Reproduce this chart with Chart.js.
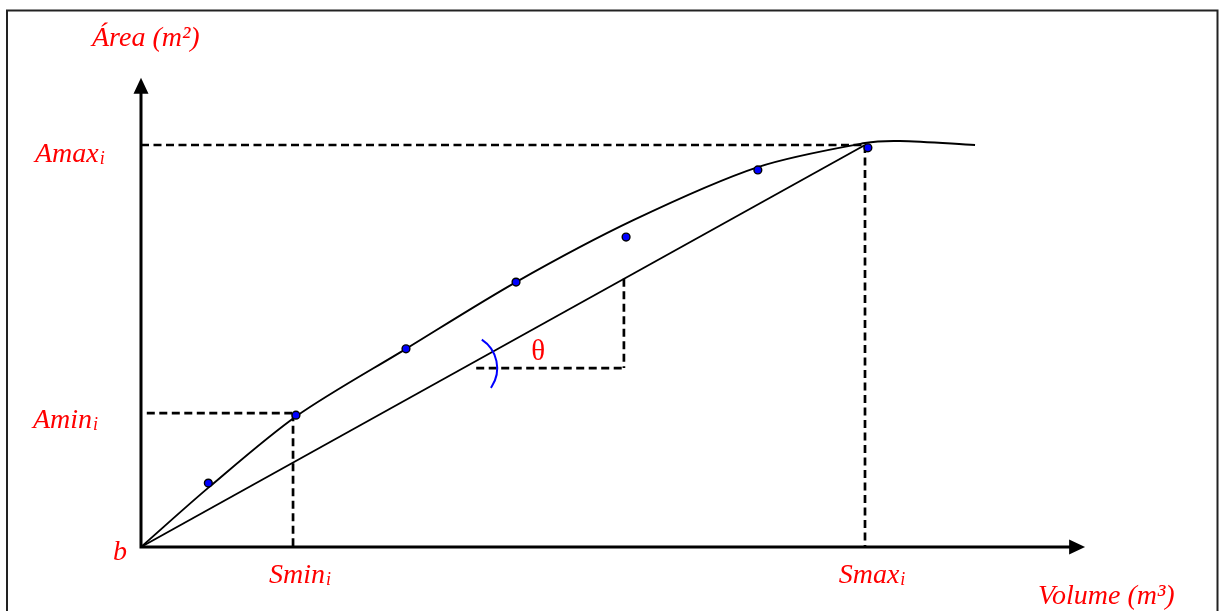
<!DOCTYPE html>
<html>
<head>
<meta charset="utf-8">
<script src="https://cdn.jsdelivr.net/npm/chart.js@4/dist/chart.umd.min.js"></script>
<style>
  html, body { margin: 0; padding: 0; background: #fff; }
  #wrap { width: 1219px; height: 611px; position: relative; }
</style>
</head>
<body>
<div id="wrap"><canvas id="c" width="1219" height="611"></canvas></div>
<script>
// Observed storage points (volume, area)
const observedVolume = [9.3, 21.4, 36.6, 51.8, 67.0, 85.2, 100.4];
const observedArea   = [15.9, 32.8, 49.3, 65.9, 77.1, 93.8, 99.3];

// Fitted area–volume curve
const curveVolume = [0, 9.4, 21.5, 36.6, 51.8, 68.0, 85.2, 100.0, 104.8, 115.2];
const curveArea   = [0, 14.9, 32.6, 49.3, 65.9, 81.3, 94.5, 100.5, 101.0, 100.0];

// Reference values marked on the axes
const sMin = 21.0, sMax = 100.0;
const aMin = 33.3, aMax = 100.0;
const bValue = 0;

// Slope triangle for theta (on the chord b -> (Smax, Amax))
const thetaVertex = 44.5;
const thetaRun = [46.3, 66.7];

// Axis extents (arrow tips)
const volumeAxisEnd = 130.4;
const areaAxisEnd = 116.7;

const pts = (xs, ys) => xs.map((x, i) => ({ x, y: ys[i] }));

const dashStyle = { borderColor: '#000', borderWidth: 2.7, borderDash: [8, 4.5], pointRadius: 0, showLine: true, fill: false, order: 3 };

const SERIF = '"Liberation Serif", "Times New Roman", serif';

const decorations = {
  id: 'decorations',
  beforeDatasetsDraw(chart) {
    const { ctx } = chart;
    const xs = chart.scales.x, ys = chart.scales.y;
    const x0 = xs.getPixelForValue(bValue), y0 = ys.getPixelForValue(bValue);
    ctx.save();
    // outer frame
    ctx.strokeStyle = '#222';
    ctx.lineWidth = 2;
    ctx.strokeRect(7, 10.5, 1210.5, 620);
    // axes with arrowheads
    ctx.strokeStyle = '#000';
    ctx.fillStyle = '#000';
    ctx.lineWidth = 3;
    const yTip = ys.getPixelForValue(areaAxisEnd);
    const xTip = xs.getPixelForValue(volumeAxisEnd);
    ctx.beginPath();
    ctx.moveTo(x0, y0 + 1.5);
    ctx.lineTo(x0, yTip + 14);
    ctx.moveTo(x0 - 1.5, y0);
    ctx.lineTo(xTip - 14, y0);
    ctx.stroke();
    ctx.beginPath();
    ctx.moveTo(x0, yTip);
    ctx.lineTo(x0 - 7.5, yTip + 16);
    ctx.lineTo(x0 + 7.5, yTip + 16);
    ctx.closePath();
    ctx.fill();
    ctx.beginPath();
    ctx.moveTo(xTip, y0);
    ctx.lineTo(xTip - 16, y0 - 7.5);
    ctx.lineTo(xTip - 16, y0 + 7.5);
    ctx.closePath();
    ctx.fill();
    ctx.restore();
  },
  afterDatasetsDraw(chart) {
    const { ctx } = chart;
    const xs = chart.scales.x, ys = chart.scales.y;
    const px = v => xs.getPixelForValue(v);
    const py = v => ys.getPixelForValue(v);
    const x0 = px(bValue), y0 = py(bValue);
    ctx.save();

    // theta arc
    const cx = px(thetaVertex), cy = py(thetaVertex);
    ctx.strokeStyle = '#0000ff';
    ctx.lineWidth = 2;
    ctx.beginPath();
    ctx.arc(cx, cy, 34, -56.8 * Math.PI / 180, 35.5 * Math.PI / 180);
    ctx.stroke();

    ctx.fillStyle = '#ff0000';
    ctx.textBaseline = 'alphabetic';

    const italic = size => `italic ${size}px ${SERIF}`;
    // label with italic subscript i
    const subLabel = (txt, left, base) => {
      ctx.font = italic(28);
      ctx.textAlign = 'left';
      ctx.fillText(txt, left, base);
      const w = ctx.measureText(txt).width;
      ctx.font = italic(18);
      ctx.fillText('i', left + w + 1, base + 2);
    };
    const subWidth = txt => {
      ctx.font = italic(28);
      const w = ctx.measureText(txt).width;
      ctx.font = italic(18);
      return w + 1 + ctx.measureText('i').width;
    };

    // axis titles
    ctx.font = italic(28);
    ctx.textAlign = 'left';
    ctx.fillText('Área (m²)', x0 - 49, py(areaAxisEnd) - 32);
    ctx.fillText('Volume (m³)', 1038, y0 + 57);

    // b at the origin
    ctx.textAlign = 'right';
    ctx.fillText('b', x0 - 14, y0 + 13);

    // y marks
    subLabel('Amax', 35, py(aMax) + 17);
    subLabel('Amin', 33, py(aMin) + 15);

    // x marks
    subLabel('Smin', px(sMin) + 7 - subWidth('Smin') / 2, y0 + 36);
    subLabel('Smax', px(sMax) + 7 - subWidth('Smax') / 2, y0 + 36);

    // theta
    ctx.font = `29px ${SERIF}`;
    ctx.textAlign = 'center';
    ctx.textBaseline = 'alphabetic';
    ctx.fillText('θ', cx + 75, cy - 8);

    ctx.restore();
  }
};

new Chart(document.getElementById('c'), {
  type: 'scatter',
  data: {
    datasets: [
      {
        label: 'Observed',
        data: pts(observedVolume, observedArea),
        pointRadius: 3.9,
        pointBackgroundColor: '#0000ff',
        pointBorderColor: '#000',
        pointBorderWidth: 1.4,
        showLine: false,
        order: 0
      },
      {
        label: 'Curve',
        type: 'line',
        data: pts(curveVolume, curveArea),
        borderColor: '#000',
        borderWidth: 1.9,
        pointRadius: 0,
        tension: 0.3,
        fill: false,
        order: 1
      },
      {
        label: 'Chord',
        type: 'line',
        data: [{ x: bValue, y: bValue }, { x: sMax, y: aMax }],
        borderColor: '#000',
        borderWidth: 1.9,
        pointRadius: 0,
        fill: false,
        order: 2
      },
      Object.assign({ label: 'Amax', type: 'line', data: [{ x: bValue, y: aMax }, { x: sMax, y: aMax }] }, dashStyle),
      Object.assign({ label: 'Smax', type: 'line', data: [{ x: sMax, y: aMax }, { x: sMax, y: bValue }] }, dashStyle),
      Object.assign({ label: 'Amin', type: 'line', data: [{ x: 0.8, y: aMin }, { x: sMin, y: aMin }] }, dashStyle),
      Object.assign({ label: 'Smin', type: 'line', data: [{ x: sMin, y: aMin }, { x: sMin, y: bValue }] }, dashStyle),
      Object.assign({ label: 'Run', type: 'line', data: [{ x: thetaRun[0], y: thetaVertex }, { x: thetaRun[1], y: thetaVertex }] }, dashStyle),
      Object.assign({ label: 'Rise', type: 'line', data: [{ x: thetaRun[1], y: thetaRun[1] }, { x: thetaRun[1], y: thetaVertex }] }, dashStyle)
    ]
  },
  options: {
    responsive: false,
    animation: false,
    devicePixelRatio: 1,
    layout: { padding: 0, autoPadding: false },
    plugins: { legend: { display: false }, tooltip: { enabled: false } },
    scales: {
      x: { type: 'linear', min: -19.475, max: 148.895, display: false },
      y: { type: 'linear', min: -15.92, max: 136.07, display: false }
    }
  },
  plugins: [decorations]
});
</script>
</body>
</html>
